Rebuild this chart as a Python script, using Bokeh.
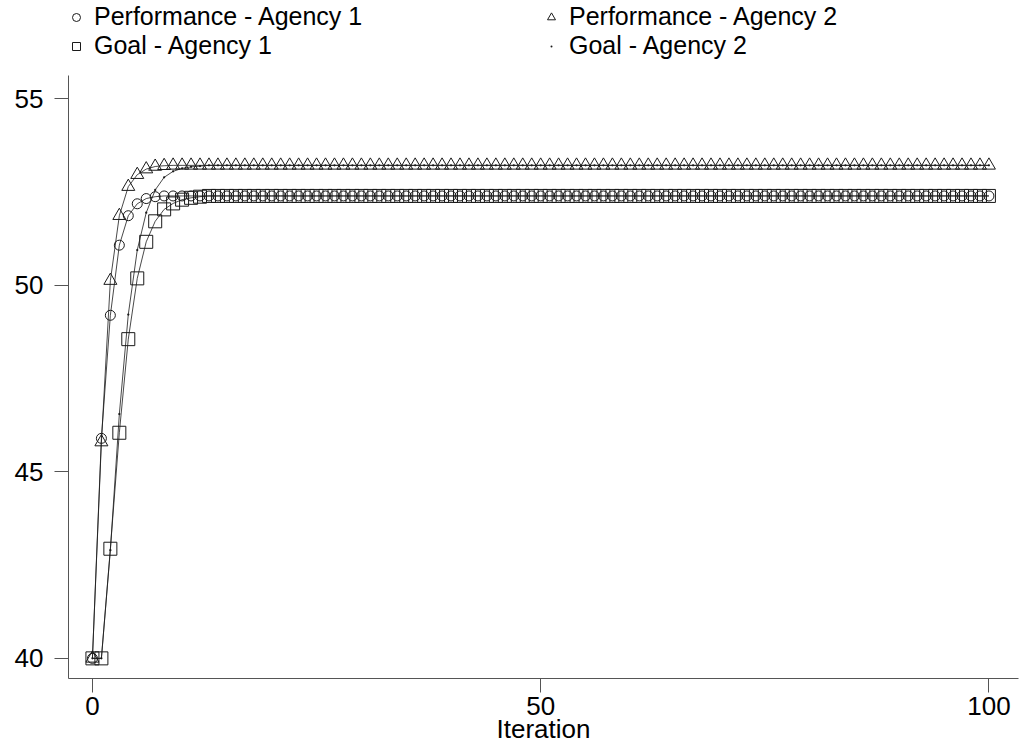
from bokeh.plotting import figure
from bokeh.layouts import column
from bokeh.models import Range1d, FixedTicker, Legend, LegendItem
from bokeh.embed import file_html
from bokeh.resources import INLINE

iteration = list(range(101))

perf_agency1 = [40.0, 45.9, 49.2, 51.08, 51.87, 52.19, 52.33, 52.38, 52.4, 52.4] + [52.4] * 91
perf_agency2 = [40.0, 45.8, 50.13, 51.87, 52.65, 52.97, 53.12, 53.19, 53.21, 53.22] + [53.22] * 91
goal_agency1 = [40.0, 40.0, 42.94, 46.05, 48.56, 50.19, 51.17, 51.72, 52.04, 52.2, 52.3, 52.35, 52.38] + [52.4] * 88
goal_agency2 = [40.0, 40.0, 42.9, 46.55, 49.22, 50.95, 51.95, 52.56, 52.9, 53.06, 53.14, 53.18, 53.2] + [53.22] * 88

x_ticks = [0, 50, 100]
y_ticks = [40, 45, 50, 55]

FONT = "Liberation Sans"
INK = "#1a1a1a"
AXIS = "#555555"

# ---------------- main plot ----------------
p = figure(width=1024, height=674, output_backend="svg", toolbar_location=None,
           x_range=Range1d(-2.67, 103.3), y_range=Range1d(39.46, 55.63),
           min_border_left=68, min_border_right=6, min_border_top=0, min_border_bottom=71)
p.outline_line_color = None
p.xgrid.grid_line_color = None
p.ygrid.grid_line_color = None
p.background_fill_color = "white"
p.border_fill_color = "white"

for ax in (p.xaxis[0], p.yaxis[0]):
    ax.axis_line_color = AXIS
    ax.major_tick_line_color = AXIS
    ax.major_tick_out = 14
    ax.major_tick_in = 0
    ax.minor_tick_line_color = None
    ax.major_label_text_font = FONT
    ax.major_label_text_font_size = "26px"
    ax.major_label_text_color = "black"

p.xaxis.major_label_standoff = 4
p.yaxis.major_label_standoff = 11
p.xaxis.ticker = FixedTicker(ticks=x_ticks)
p.yaxis.ticker = FixedTicker(ticks=y_ticks)
p.yaxis.major_label_orientation = "horizontal"
p.xaxis.axis_label = "Iteration"
p.xaxis.axis_label_text_font = FONT
p.xaxis.axis_label_text_font_size = "26px"
p.xaxis.axis_label_text_font_style = "normal"
p.xaxis.axis_label_text_color = "black"
p.xaxis.axis_label_standoff = -4

for ys in (perf_agency1, perf_agency2, goal_agency1, goal_agency2):
    p.line(iteration, ys, line_color=INK, line_width=0.8)

marker_styles = [
    ("Performance - Agency 1", perf_agency1, "circle", 10),
    ("Performance - Agency 2", perf_agency2, "triangle", 13),
    ("Goal - Agency 1", goal_agency1, "square", 13),
    ("Goal - Agency 2", goal_agency2, "dot", 9),
]
for name, ys, mk, sz in marker_styles:
    p.scatter(iteration, ys, marker=mk, size=sz,
              fill_color=INK if mk == "dot" else None, line_color=INK, line_width=1)

# ---------------- legend strip ----------------
top = figure(width=1024, height=75, output_backend="svg", toolbar_location=None,
             x_range=Range1d(0, 1), y_range=Range1d(0, 1),
             min_border_left=0, min_border_right=0, min_border_top=0, min_border_bottom=0)
top.axis.visible = False
top.grid.visible = False
top.outline_line_color = None
top.background_fill_color = "white"
top.border_fill_color = "white"

common = dict(label_text_font=FONT, label_text_font_size="25px", label_text_color="black",
              glyph_width=20, glyph_height=24, label_height=24, label_standoff=8,
              spacing=0, padding=0, margin=0, border_line_color=None,
              background_fill_alpha=0, orientation="vertical")

# legend slots: (column offset, row offset) in screen pixels
slots = {
    "Performance - Agency 1": (-2, 44),
    "Goal - Agency 1": (-2, 15),
    "Performance - Agency 2": (473, 44),
    "Goal - Agency 2": (473, 15),
}
for name, ys, mk, sz in marker_styles:
    r = top.scatter(iteration, ys, marker=mk, size=sz,
                    fill_color=INK if mk == "dot" else None, line_color=INK, line_width=1)
    top.add_layout(Legend(items=[LegendItem(label=name, renderers=[r])],
                          location=slots[name], **common))

layout = column(top, p, spacing=0)
open("out.html", "w").write(file_html(layout, INLINE))
